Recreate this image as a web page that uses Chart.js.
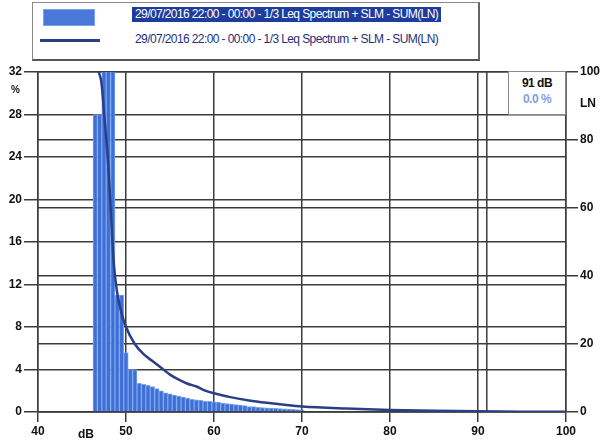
<!DOCTYPE html>
<html>
<head>
<meta charset="utf-8">
<script src="https://cdn.jsdelivr.net/npm/chart.js@4/dist/chart.umd.min.js"></script>
<style>
  html, body { margin:0; padding:0; background:#fff; }
  #wrap { position:relative; width:604px; height:446px; overflow:hidden; font-family:"Liberation Sans Narrow","Liberation Sans",Arial,sans-serif; }
  #c { position:absolute; left:0; top:0; }
  .abs { position:absolute; white-space:nowrap; }
  #legend { left:32px; top:2px; width:448px; height:59px; border:1px solid #888; border-right:2px solid #666; border-bottom:2px solid #555; box-sizing:border-box; background:#fff; }
  .lt { font-size:12px; color:#1f2f7a; letter-spacing:-0.6px; }
  #cursorbox { left:508px; top:71px; width:58px; height:44px; border:1px solid #888; box-sizing:border-box; background:#fff; text-align:center; font-weight:bold; font-size:12px; letter-spacing:-0.5px; }
  .lbl { font-weight:bold; font-size:12px; color:#111; }
</style>
</head>
<body>
<div id="wrap">
  <canvas id="c" width="604" height="446"></canvas>
  <div id="legend" class="abs"></div>
  <div class="abs" style="left:43px;top:9px;width:52px;height:17px;background:#4a78d8;border:1px solid #7aa3ea;box-sizing:border-box;"></div>
  <div class="abs lt" style="left:132px;top:7px;background:#1d3c9e;color:#fff;padding:0 3px;line-height:15px;" id="lg1"></div>
  <div class="abs" style="left:40px;top:39px;width:60px;height:3px;background:#2b3f86;"></div>
  <div class="abs lt" style="left:135px;top:32px;line-height:15px;" id="lg2"></div>
  <div id="cursorbox" class="abs"><div id="cbdb" style="margin-top:4px;color:#111;"></div><div id="cbpct" style="color:#7f9fe2;margin-top:2px;"></div></div>
  <div class="abs lbl" style="left:11px;top:84px;font-size:10px;">%</div>
  <div class="abs lbl" style="left:78px;top:427px;">dB</div>
  <div class="abs lbl" style="left:580px;top:96px;">LN</div>
</div>
<script>
// ---- data ----
const legendLabels = [
  "29/07/2016 22:00 - 00:00 - 1/3 Leq Spectrum + SLM - SUM(LN)",
  "29/07/2016 22:00 - 00:00 - 1/3 Leq Spectrum + SLM - SUM(LN)"
];
const binLevels = [46.5,47,47.5,48,48.5,49,49.5,50,50.5,51,51.5,52,52.5,53,53.5,54,54.5,55,55.5,56,56.5,57,57.5,58,58.5,59,59.5,60,60.5,61,61.5,62,62.5,63,63.5,64,64.5,65,65.5,66,66.5,67,67.5,68,68.5,69,69.5,70];
const binPercent = [28,28,36,36,36,11,11,5.6,4.0,4.0,2.7,2.6,2.5,2.4,2.2,2.0,1.8,1.7,1.6,1.5,1.4,1.3,1.2,1.15,1.1,1.0,1.0,0.95,0.9,0.85,0.8,0.75,0.7,0.65,0.6,0.5,0.5,0.45,0.42,0.4,0.37,0.35,0.32,0.3,0.27,0.25,0.22,0.2];
const lnLevels  = [46.9,47.2,47.6,48,48.3,48.6,49,49.5,50,51,52,53,54,55,56,57,58,59,60,62,64,66,68,70,75,80,85,90,95,100];
const lnPercent = [100,97,85,72,58,44,35,29,25,20,17,15,13,11,9.5,8.3,7.5,6.3,5.5,4.3,3.4,2.7,2.1,1.6,1.0,0.6,0.35,0.2,0.1,0.05];
const leftTicks = [0,4,8,12,16,20,24,28,32];
const rightTicks = [0,20,40,60,80,100];
const xTicks = [40,50,60,70,80,90,100];
const cursorDb = 91;
const cursorText = "91 dB";
const cursorPct = "0.0 %";

document.getElementById('lg1').textContent = legendLabels[0];
document.getElementById('lg2').textContent = legendLabels[1];
document.getElementById('cbdb').textContent = cursorText;
document.getElementById('cbpct').textContent = cursorPct;

const gridColor = '#3c3c3c';
const tickFont = { family: '"Liberation Sans Narrow","Liberation Sans",Arial,sans-serif', size: 12, weight: 'bold' };

const cursorPlugin = {
  id: 'cursorLine',
  beforeDatasetsDraw(chart) {
    const { ctx, chartArea, scales } = chart;
    const x = scales.x.getPixelForValue(cursorDb);
    ctx.save();
    ctx.strokeStyle = gridColor;
    ctx.lineWidth = 1.5;
    ctx.beginPath();
    ctx.moveTo(x, chartArea.top);
    ctx.lineTo(x, chartArea.bottom);
    ctx.stroke();
    ctx.restore();
  }
};

new Chart(document.getElementById('c'), {
  data: {
    datasets: [
      {
        type: 'line',
        data: lnLevels.map((x, i) => ({ x, y: lnPercent[i] })),
        yAxisID: 'y2',
        borderColor: '#2b3f86',
        borderWidth: 2.5,
        pointRadius: 0,
        cubicInterpolationMode: 'monotone',
        order: 0
      },
      {
        type: 'bar',
        data: binLevels.map((x, i) => ({ x, y: binPercent[i] })),
        yAxisID: 'y',
        backgroundColor: '#3f6fd6',
        borderColor: '#79a6ee',
        borderWidth: 1,
        barPercentage: 1,
        categoryPercentage: 1,
        order: 1
      }
    ]
  },
  plugins: [cursorPlugin],
  options: {
    responsive: false,
    animation: false,
    layout: { padding: { top: 72, left: 0, right: 0, bottom: 0 } },
    plugins: { legend: { display: false }, tooltip: { enabled: false } },
    scales: {
      x: {
        type: 'linear', min: 40, max: 100, offset: false,
        afterFit(s) { s.height = 34; },
        afterBuildTicks(s) { s.ticks = xTicks.map(v => ({ value: v })); },
        ticks: { color: '#111', font: tickFont, padding: 2, maxRotation: 0 },
        grid: { color: gridColor, lineWidth: 1.5, tickLength: 10, offset: false },
        border: { color: gridColor, width: 1.5 }
      },
      y: {
        position: 'left', min: 0, max: 32,
        afterFit(s) { s.width = 38; },
        afterBuildTicks(s) { s.ticks = leftTicks.map(v => ({ value: v })); },
        ticks: { color: '#111', font: tickFont, padding: 2 },
        grid: { color: gridColor, lineWidth: 1.5, tickLength: 14 },
        border: { color: gridColor, width: 1.5 }
      },
      y2: {
        position: 'right', min: 0, max: 100,
        afterFit(s) { s.width = 38; },
        afterBuildTicks(s) { s.ticks = rightTicks.map(v => ({ value: v })); },
        ticks: { color: '#111', font: tickFont, padding: 2 },
        grid: { color: gridColor, lineWidth: 1.5, tickLength: 12 },
        border: { color: gridColor, width: 1.5 }
      }
    }
  }
});
</script>
</body>
</html>
